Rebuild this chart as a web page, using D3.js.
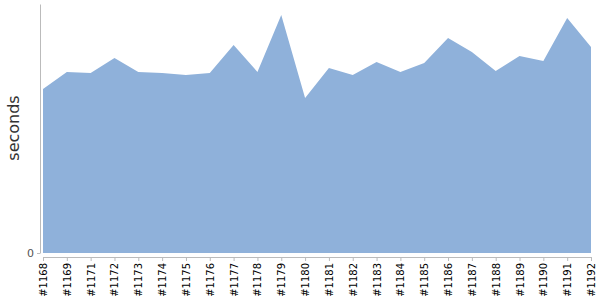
<!DOCTYPE html>
<html>
<head>
<meta charset="utf-8">
<script src="https://cdn.jsdelivr.net/npm/d3@7"></script>
<style>
  body { margin: 0; background: #fff; }
  svg { display: block; }
</style>
</head>
<body>
<div id="chart"></div>
<script>
// Build numbers (note #1170 is missing)
const builds = ["#1168", "#1169", "#1171", "#1172", "#1173", "#1174", "#1175", "#1176",
  "#1177", "#1178", "#1179", "#1180", "#1181", "#1182", "#1183", "#1184", "#1185",
  "#1186", "#1187", "#1188", "#1189", "#1190", "#1191", "#1192"];

// Build duration in seconds
const seconds = [164, 181, 180, 195, 181, 180, 178, 180, 208, 181, 238, 155, 185,
  178, 191, 181, 190, 215, 201, 182, 197, 192, 235, 206];

const yTicks = [0];

const width = 600, height = 300;

const svg = d3.select("#chart").append("svg")
  .attr("width", width)
  .attr("height", height);

// Scales
const x = d3.scalePoint().domain(builds).range([43, 591]);
const y = d3.scaleLinear().domain([0, 249]).range([253, 4]);

const data = builds.map((b, i) => ({ build: b, value: seconds[i] }));

// Area
const area = d3.area()
  .x(d => x(d.build))
  .y0(y(0))
  .y1(d => y(d.value));

svg.append("path")
  .datum(data)
  .attr("fill", "#8fb1da")
  .attr("d", area);

// Y axis
const yAxis = svg.append("g")
  .attr("transform", "translate(40,0)")
  .call(d3.axisLeft(y).tickValues(yTicks).tickSize(3).tickSizeOuter(0));
yAxis.select(".domain").attr("stroke", "#bbb");
yAxis.selectAll(".tick line").attr("stroke", "#bbb");
yAxis.selectAll(".tick text")
  .attr("fill", "#555")
  .style("font-family", "'DejaVu Sans', Verdana, sans-serif")
  .style("font-size", "11px");

// X axis
const xAxis = svg.append("g")
  .attr("transform", "translate(0,257)")
  .call(d3.axisBottom(x).tickSize(4).tickSizeOuter(0));
xAxis.select(".domain").attr("stroke", "#bbb");
xAxis.selectAll(".tick line").attr("stroke", "#bbb");
xAxis.selectAll(".tick text")
  .attr("fill", "#000")
  .style("font-family", "'DejaVu Sans', Verdana, sans-serif")
  .style("font-size", "10px")
  .attr("transform", "rotate(-90)")
  .attr("text-anchor", "end")
  .attr("x", -6)
  .attr("y", 0)
  .attr("dy", "0.35em");

// Y axis title
svg.append("text")
  .attr("transform", "translate(19,128) rotate(-90)")
  .attr("text-anchor", "middle")
  .attr("fill", "#333")
  .style("font-family", "'DejaVu Sans', Verdana, sans-serif")
  .style("font-size", "16px")
  .text("seconds");
</script>
</body>
</html>
